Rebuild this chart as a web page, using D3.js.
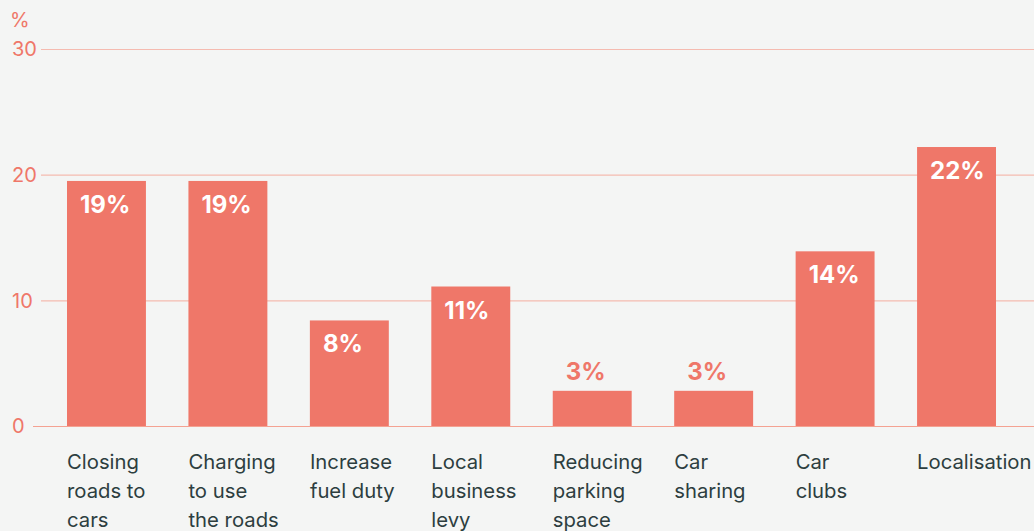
<!DOCTYPE html>
<html>
<head>
<meta charset="utf-8">
<script src="https://cdn.jsdelivr.net/npm/d3@7"></script>
<style>
  html, body { margin: 0; padding: 0; background: #f4f5f4; }
  svg { display: block; font-family: Inter, "Noto Sans", sans-serif; }
</style>
</head>
<body>
<div id="chart"></div>
<script>
var categories = [
  ["Closing", "roads to", "cars"],
  ["Charging", "to use", "the roads"],
  ["Increase", "fuel duty"],
  ["Local", "business", "levy"],
  ["Reducing", "parking", "space"],
  ["Car", "sharing"],
  ["Car", "clubs"],
  ["Localisation"]
];
var values = [19.5, 19.5, 8.4, 11.1, 2.8, 2.8, 13.9, 22.2];
var valueLabels = ["19%", "19%", "8%", "11%", "3%", "3%", "14%", "22%"];
var yTicks = [0, 10, 20, 30];

var width = 1034, height = 531;
var salmon = "#ef7769";

var svg = d3.select("#chart").append("svg")
    .attr("width", width)
    .attr("height", height);

svg.append("rect")
    .attr("width", width)
    .attr("height", height)
    .attr("fill", "#f4f5f4");

var x = d3.scaleBand()
    .domain(d3.range(categories.length))
    .range([67, 996])
    .paddingInner(0.35)
    .paddingOuter(0);

var y = d3.scaleLinear()
    .domain([0, 30])
    .range([426, 49]);

// gridlines
svg.selectAll(".grid")
    .data(yTicks)
  .enter().append("line")
    .attr("class", "grid")
    .attr("x1", function(d) { return d === 0 ? 33 : 41; })
    .attr("x2", width)
    .attr("y1", function(d) { return y(d) + 0.5; })
    .attr("y2", function(d) { return y(d) + 0.5; })
    .attr("stroke", function(d) { return d === 0 ? "#f4a292" : "#f5bbb0"; })
    .attr("stroke-width", 1.2);

// tick labels
svg.selectAll(".tick-label")
    .data(yTicks)
  .enter().append("text")
    .attr("class", "tick-label")
    .attr("x", 12)
    .attr("y", function(d) { return y(d); })
    .attr("dy", "0.36em")
    .attr("fill", salmon)
    .attr("font-size", 20)
    .text(function(d) { return d; });

svg.append("text")
    .attr("x", 10)
    .attr("y", 27)
    .attr("fill", salmon)
    .attr("font-size", 20)
    .text("%");

// bars
svg.selectAll(".bar")
    .data(values)
  .enter().append("rect")
    .attr("class", "bar")
    .attr("x", function(d, i) { return x(i); })
    .attr("width", x.bandwidth())
    .attr("y", function(d) { return y(d); })
    .attr("height", function(d) { return y(0) - y(d); })
    .attr("fill", salmon);

// value labels
svg.selectAll(".value")
    .data(values)
  .enter().append("text")
    .attr("class", "value")
    .attr("x", function(d, i) { return x(i) + 13; })
    .attr("y", function(d) { return d < 5 ? y(d) - 11 : y(d) + 32; })
    .attr("fill", function(d) { return d < 5 ? salmon : "#ffffff"; })
    .attr("font-size", 24)
    .attr("font-weight", 700)
    .text(function(d, i) { return valueLabels[i]; });

// category labels
var cat = svg.selectAll(".cat")
    .data(categories)
  .enter().append("text")
    .attr("class", "cat")
    .attr("x", function(d, i) { return x(i); })
    .attr("y", 469)
    .attr("fill", "#2d3e3f")
    .attr("font-size", 20.3);

cat.selectAll("tspan")
    .data(function(d) { return d; })
  .enter().append("tspan")
    .attr("x", function() { return d3.select(this.parentNode).attr("x"); })
    .attr("dy", function(d, i) { return i === 0 ? 0 : 29; })
    .text(function(d) { return d; });
</script>
</body>
</html>
